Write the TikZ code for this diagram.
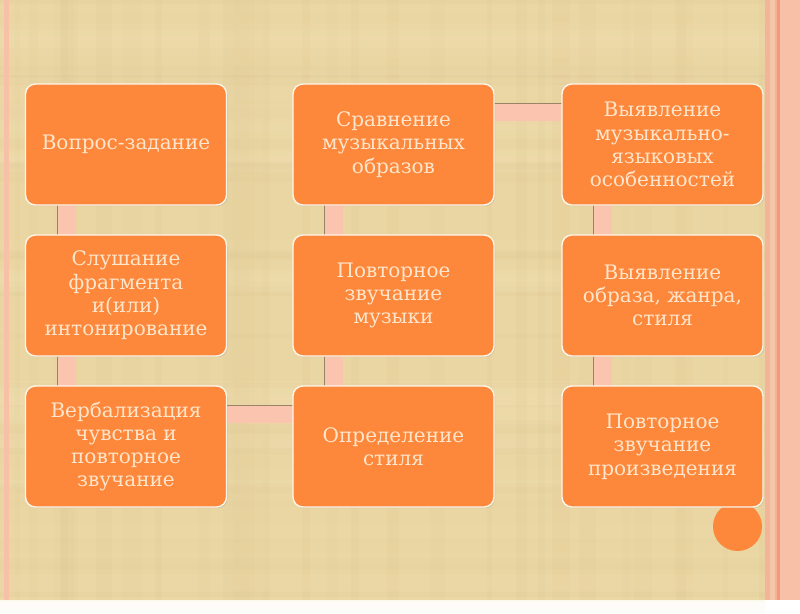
\documentclass[tikz,border=0pt]{standalone}
\usepackage{fontspec}
\setmainfont{DejaVu Serif}
\usetikzlibrary{shadows}
\definecolor{parch}{HTML}{EAD6A2}
\definecolor{parchlight}{HTML}{F3E3B8}
\definecolor{parchdark}{HTML}{D6BE8A}
\definecolor{boxorange}{HTML}{FD873A}
\definecolor{boxtext}{HTML}{FDE6CC}
\definecolor{boxedge}{HTML}{FFF6EA}
\definecolor{connfill}{HTML}{FBC4AE}
\definecolor{connedge}{HTML}{9A8468}
\definecolor{salmon}{HTML}{F9C0A8}
\definecolor{pinkline}{HTML}{F4B49C}
\definecolor{orangeline}{HTML}{F39A78}
\tikzset{
  stepbox/.style={rectangle, rounded corners=10pt, fill=boxorange, draw=boxedge,
    line width=1.4pt, minimum width=201pt, minimum height=121pt, inner sep=4pt,
    align=center, text=boxtext, font=\fontsize{20}{23.3}\selectfont,
    drop shadow={opacity=0.25, shadow xshift=1pt, shadow yshift=-1.2pt}},
  connector/.style={fill=connfill},
  connshade/.style={draw=connedge, line width=0.7pt},
  ghost/.style={minimum width=201pt, minimum height=121pt}
}
\begin{document}
\begin{tikzpicture}[x=1pt, y=-1pt]
% background
\fill[parch] (0,0) rectangle (800,600);
\pgfmathsetseed{7}
\foreach \i in {1,...,40}{
  \pgfmathsetmacro{\yy}{rnd*600}
  \pgfmathsetmacro{\hh}{6+rnd*22}
  \pgfmathsetmacro{\op}{0.06+rnd*0.12}
  \fill[parchlight, opacity=\op] (0,\yy) rectangle (765,\yy+\hh);
}
\foreach \i in {1,...,30}{
  \pgfmathsetmacro{\xx}{rnd*760}
  \pgfmathsetmacro{\ww}{4+rnd*18}
  \pgfmathsetmacro{\op}{0.04+rnd*0.08}
  \fill[parchdark, opacity=\op] (\xx,0) rectangle (\xx+\ww,600);
}
\foreach \i in {1,...,25}{
  \pgfmathsetmacro{\yy}{rnd*600}
  \pgfmathsetmacro{\hh}{3+rnd*10}
  \pgfmathsetmacro{\op}{0.03+rnd*0.07}
  \fill[parchdark, opacity=\op] (0,\yy) rectangle (765,\yy+\hh);
}
% frame
\fill[salmon] (4,0) rectangle (9,600);
\fill[pinkline] (765,0) rectangle (770,600);
\fill[salmon!70!parch] (770,0) rectangle (775,600);
\fill[pinkline] (775,0) rectangle (777,600);
\fill[orangeline] (777,0) rectangle (780,600);
\fill[salmon] (780,0) rectangle (800,600);
% decorative circle
\fill[boxorange] (737.5,526.5) circle (24.5);
% box positions
\path
  (126,144.5) coordinate (p1)
  (126,295.5) coordinate (p2)
  (126,446.5) coordinate (p3)
  (393.5,446.5) coordinate (p4)
  (393.5,295.5) coordinate (p5)
  (393.5,144.5) coordinate (p6)
  (662.5,144.5) coordinate (p7)
  (662.5,295.5) coordinate (p8)
  (662.5,446.5) coordinate (p9);
\path
  node[ghost] (g1) at (p1) {}
  node[ghost] (g2) at (p2) {}
  node[ghost] (g3) at (p3) {}
  node[ghost] (g4) at (p4) {}
  node[ghost] (g5) at (p5) {}
  node[ghost] (g6) at (p6) {}
  node[ghost] (g7) at (p7) {}
  node[ghost] (g8) at (p8) {}
  node[ghost] (g9) at (p9) {};
% connectors
\foreach \a/\b in {g1/g2, g2/g3, g6/g5, g5/g4, g7/g8, g8/g9}{
  \fill[connector] ([xshift=32pt]\a.south west) rectangle ([xshift=50pt]\b.north west);
  \draw[connshade] ([xshift=32pt]\a.south west) -- ([xshift=32pt]\b.north west);
}
\foreach \a/\b in {g3/g4, g6/g7}{
  \fill[connector] ([yshift=-20pt]\a.north east) rectangle ([yshift=-37pt]\b.north west);
  \draw[connshade] ([yshift=-20pt]\a.north east) -- ([yshift=-20pt]\b.north west);
}
% boxes
\node[stepbox] (b1) at (p1) {Вопрос-задание};
\node[stepbox] (b2) at (p2) {Слушание\\фрагмента\\и(или)\\интонирование};
\node[stepbox] (b3) at (p3) {Вербализация\\чувства и\\повторное\\звучание};
\node[stepbox] (b4) at (p4) {Определение\\стиля};
\node[stepbox] (b5) at (p5) {Повторное\\звучание\\музыки};
\node[stepbox] (b6) at (p6) {Сравнение\\музыкальных\\образов};
\node[stepbox] (b7) at (p7) {Выявление\\музыкально-\\языковых\\особенностей};
\node[stepbox] (b8) at (p8) {Выявление\\образа, жанра,\\стиля};
\node[stepbox] (b9) at (p9) {Повторное\\звучание\\произведения};
\end{tikzpicture}
\end{document}
